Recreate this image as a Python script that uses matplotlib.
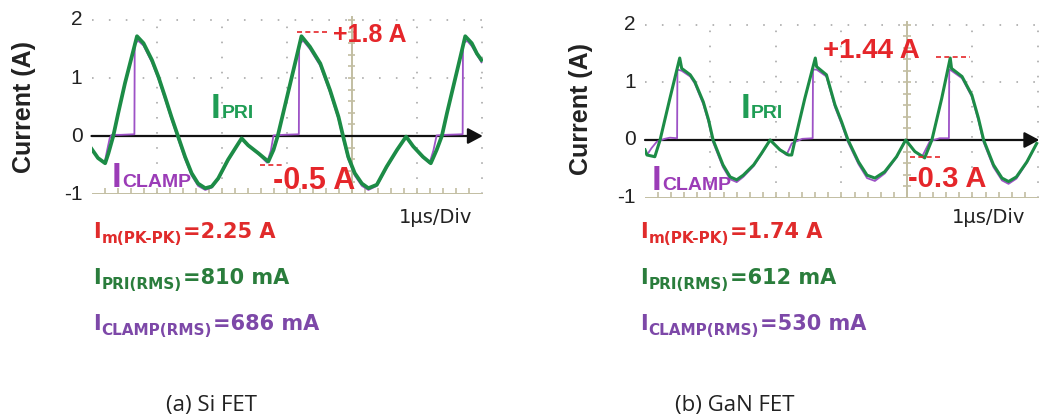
import numpy as np
import matplotlib
matplotlib.use("Agg")
import matplotlib.pyplot as plt

# ---- data (x in divisions, 1 us/div; y in A) ----
si_t_pri = [0.00, 0.10, 0.21, 0.26, 0.335, 0.41, 0.515, 0.62, 0.70, 0.80, 0.93, 1.03, 1.13, 1.23, 1.33,
            1.44, 1.54, 1.64, 1.75, 1.85, 1.95, 2.10, 2.23, 2.31, 2.41, 2.57, 2.72, 2.80, 2.865,
            2.95, 3.05, 3.15, 3.23, 3.36, 3.52, 3.67, 3.80, 3.87, 3.95, 4.05, 4.16, 4.26, 4.39, 4.54,
            4.70, 4.84, 4.95, 5.10, 5.22, 5.31, 5.39,
            5.47, 5.57, 5.67, 5.75, 5.85, 5.93, 6.00]
si_i_pri = [-0.22, -0.38, -0.47, -0.30, 0.00, 0.39, 0.91, 1.37, 1.72, 1.60, 1.31, 1.02, 0.68, 0.33, 0.00,
            -0.36, -0.64, -0.82, -0.90, -0.87, -0.73, -0.41, -0.18, -0.04, -0.16, -0.30, -0.44, -0.24, 0.00,
            0.40, 0.87, 1.34, 1.72, 1.54, 1.25, 0.79, 0.33, 0.00, -0.36, -0.64, -0.82, -0.90, -0.84, -0.53,
            -0.24, -0.01, -0.18, -0.36, -0.47, -0.24, 0.00,
            0.40, 0.87, 1.34, 1.72, 1.60, 1.42, 1.31]
si_t_clamp = [0.00, 0.10, 0.20, 0.24, 0.28, 0.31, 0.45, 0.66, 0.665, 0.72, 0.80, 0.93, 1.03, 1.13, 1.23,
              1.33, 1.44, 1.54, 1.64, 1.75, 1.85, 1.95, 2.10, 2.23, 2.31, 2.41, 2.57, 2.70, 2.76, 2.80,
              2.95, 3.19, 3.195, 3.26, 3.36, 3.52, 3.67, 3.80, 3.87, 3.95, 4.05, 4.16, 4.26, 4.39, 4.54,
              4.70, 4.84, 4.95, 5.10, 5.20, 5.26, 5.31, 5.45, 5.71, 5.715, 5.78, 5.85, 6.00]
si_i_clamp = [-0.22, -0.38, -0.47, -0.25, -0.04, 0.02, 0.02, 0.03, 1.60, 1.64, 1.56, 1.27, 0.98, 0.64, 0.29,
              -0.04, -0.40, -0.68, -0.86, -0.93, -0.89, -0.75, -0.43, -0.19, -0.05, -0.17, -0.31, -0.46, -0.25, 0.01,
              0.02, 0.03, 1.60, 1.64, 1.50, 1.21, 0.75, 0.29, -0.04, -0.40, -0.68, -0.86, -0.93, -0.86, -0.55,
              -0.25, -0.02, -0.19, -0.37, -0.47, -0.25, 0.01, 0.02, 0.03, 1.60, 1.64, 1.55, 1.27]

gan_t_pri = [0.00, 0.03, 0.15, 0.23, 0.38, 0.53, 0.56, 0.69, 0.76, 0.89, 0.97, 1.04, 1.19, 1.30, 1.40,
             1.50, 1.66, 1.78, 1.91, 2.06, 2.19, 2.24, 2.29, 2.44, 2.60, 2.62, 2.77, 2.90, 3.00, 3.10,
             3.26, 3.39, 3.51, 3.66, 3.84, 3.98, 4.12, 4.27, 4.38, 4.53, 4.66, 4.68, 4.84, 4.99, 5.09,
             5.17, 5.32, 5.45, 5.55, 5.67, 5.83, 5.98]
gan_i_pri = [-0.17, -0.26, -0.29, 0.00, 0.72, 1.42, 1.24, 1.13, 1.01, 0.66, 0.35, 0.00, -0.43, -0.64, -0.69,
             -0.61, -0.43, -0.23, 0.00, -0.17, -0.26, -0.26, 0.00, 0.72, 1.42, 1.27, 1.13, 0.61, 0.32, 0.00,
             -0.38, -0.61, -0.66, -0.55, -0.29, 0.00, -0.20, -0.31, 0.00, 0.72, 1.42, 1.24, 1.10, 0.78, 0.38,
             0.00, -0.43, -0.66, -0.72, -0.64, -0.38, -0.06]
gan_t_clamp = [0.00, 0.03, 0.10, 0.18, 0.30, 0.38, 0.49, 0.495, 0.56, 0.69, 0.76, 0.89, 0.97, 1.04, 1.19,
               1.30, 1.40, 1.50, 1.66, 1.78, 1.91, 2.06, 2.16, 2.24, 2.40, 2.56, 2.565, 2.62, 2.77, 2.90,
               3.00, 3.10, 3.26, 3.39, 3.51, 3.66, 3.84, 3.98, 4.12, 4.23, 4.35, 4.50, 4.64, 4.645, 4.68,
               4.84, 4.99, 5.09, 5.17, 5.32, 5.45, 5.55, 5.67, 5.83, 5.98]
gan_i_clamp = [-0.17, -0.26, -0.14, -0.03, 0.02, 0.04, 0.03, 1.22, 1.20, 1.10, 0.98, 0.62, 0.31, -0.04, -0.47,
               -0.68, -0.73, -0.64, -0.45, -0.24, 0.00, -0.17, -0.26, -0.06, 0.02, 0.03, 1.22, 1.22, 1.10, 0.57,
               0.28, -0.04, -0.42, -0.66, -0.71, -0.58, -0.30, 0.00, -0.20, -0.29, -0.02, 0.03, 0.03, 1.22, 1.20,
               1.07, 0.75, 0.34, -0.04, -0.47, -0.70, -0.76, -0.67, -0.39, -0.06]

ytick_vals = [2, 1, 0, -1]
ytick_labels = ["2", "1", "0", "-1"]

si_marks = [1.8, -0.5]       # peak / valley annotations
gan_marks = [1.44, -0.3]
si_summary = ["2.25 A", "810 mA", "686 mA"]
gan_summary = ["1.74 A", "612 mA", "530 mA"]
captions = ["(a) Si FET", "(b) GaN FET"]

GREEN = "#1c8c46"
PURPLE = "#9d52c6"
RED = "#e5262a"
TAN = "#c2bea2"
DOT = "#b0b0b0"
ARIAL = "Liberation Sans"

W, H = 1045, 415
fig = plt.figure(figsize=(W / 100, H / 100), dpi=100)

# invisible full-figure axes for the free text
bg = fig.add_axes([0, 0, 1, 1])
bg.set_xlim(0, 1)
bg.set_ylim(0, 1)
bg.set_axis_off()


def fx(px):
    return px / W


def fy(py):
    return 1 - py / H


def sub_text(ax, x, y, main, sub, color, smain, ssub, dy, family):
    t1 = ax.text(x, y, main, color=color, fontsize=smain, fontweight="bold",
                 family=family, ha="left", va="baseline", zorder=6)
    t2 = ax.annotate(sub, xy=(1, 0), xycoords=t1, xytext=(0.6, dy), textcoords="offset points",
                     color=color, fontsize=ssub, fontweight="bold", family=family,
                     ha="left", va="bottom", zorder=6)
    return t1, t2


def panel(rect, t_pri, i_pri, t_cl, i_cl, centre, marks, mark_cfg, pri_pos, cl_pos, lw_pri):
    ax = fig.add_axes(rect)
    ax.set_xlim(0, 6.02)
    ax.set_ylim(-1, 2.1)
    ax.set_axis_off()

    # scope graticule
    for g in [1, 2, 3, 5, 6]:
        ax.plot([g, g], [-1, 2.05], color=DOT, lw=1.3, ls=(0, (0.9, 7.45)), zorder=1)
    for h in [1, 2]:
        ax.plot([0, 6], [h, h], color=DOT, lw=1.3, ls=(0, (0.9, 8.45)), zorder=1)
    ax.plot([centre, centre], [-1, 2.05], color=TAN, lw=1.4, zorder=1)
    ax.hlines(np.arange(-0.8, 2.01, 0.2), centre - 0.06, centre + 0.06, color=TAN, lw=1.2, zorder=1)
    ax.plot([0, 6], [-1, -1], color=TAN, lw=1.4, zorder=1)
    ax.vlines(np.arange(0.2, 6.0, 0.2), -1, -0.9, color=TAN, lw=1.2, zorder=1)

    # axes with arrows
    arr = dict(arrowstyle="-|>,head_length=0.75,head_width=0.4", color="#111111", lw=1.6,
               shrinkA=0, shrinkB=0, mutation_scale=12)
    ax.annotate("", xy=(0, 2.12), xytext=(0, -1.0), arrowprops=arr, zorder=2)
    ax.annotate("", xy=(6.02, 0), xytext=(0, 0), arrowprops=arr, zorder=2)

    for v, lab in zip(ytick_vals, ytick_labels):
        ax.text(-0.14, v, lab, ha="right", va="center", fontsize=15, family=ARIAL, color="#222222")

    # traces
    ax.plot(t_cl, i_cl, color=PURPLE, lw=1.3, zorder=3)
    ax.plot(t_pri, i_pri, color=GREEN, lw=lw_pri, zorder=4, solid_joinstyle="round")

    # peak / valley callouts
    for val, (x0, x1, tx, ty, fs) in zip(marks, mark_cfg):
        ax.plot([x0, x1], [val, val], color=RED, lw=1.2, ls=(0, (3, 2)), zorder=5)
        sign = "+" if val > 0 else ""
        ax.text(tx, ty, f"{sign}{val:g} A", color=RED, fontsize=fs, fontweight="bold",
                family=ARIAL, ha="left", va="center", zorder=6)

    sub_text(ax, pri_pos[0], pri_pos[1], "I", "PRI", "#1f9d55", 25, 14, 2.3, ARIAL)
    sub_text(ax, cl_pos[0], cl_pos[1], "I", "CLAMP", "#9b3cb7", 25, 14, 2.3, ARIAL)
    return ax


panel([fx(91.5), fy(194), 391.3 / W, 179.8 / H], si_t_pri, si_i_pri, si_t_clamp, si_i_clamp,
      4, si_marks, [(3.16, 3.66, 3.715, 1.74, 18), (2.59, 2.95, 2.79, -0.78, 22)],
      (1.84, 0.31), (0.31, -0.88), 2.7)
panel([fx(645), fy(197.7), 394.3 / W, 178.9 / H], gan_t_pri, gan_i_pri, gan_t_clamp, gan_i_clamp,
      4, gan_marks, [(4.45, 4.96, 2.72, 1.54, 20), (4.05, 4.55, 4.02, -0.68, 21)],
      (1.46, 0.38), (0.10, -0.87), 2.2)

# axis titles and time base
for xl, yl in [(24, 107), (581, 109)]:
    bg.text(fx(xl), fy(yl), "Current (A)", rotation=90, ha="center", va="center",
            fontsize=18, fontweight="bold", family=ARIAL, color="#222222")
for xd in [399, 952]:
    bg.text(fx(xd), fy(217), "1\u03bcs/Div", ha="left", va="center", fontsize=14,
            family="DejaVu Sans", color="#222222")

# summary lines under each panel
subs = ["m(PK-PK)", "PRI(RMS)", "CLAMP(RMS)"]
cols = ["#e02b2b", "#2a7d3c", "#7d48a8"]
base_y = [238, 284, 330]
for x0, vals in [(93, si_summary), (640, gan_summary)]:
    for sub, val, col, by in zip(subs, vals, cols, base_y):
        t1, t2 = sub_text(bg, fx(x0), fy(by), "I", sub, col, 15, 11, -3.2, "DejaVu Sans")
        bg.annotate("=" + val, xy=(1, 0), xycoords=(t2, t1), xytext=(0.8, 0), textcoords="offset points",
                    color=col, fontsize=15, fontweight="bold", family="DejaVu Sans",
                    ha="left", va="bottom")

for cx, cap in zip([212, 735], captions):
    bg.text(fx(cx), fy(405), cap, ha="center", va="center", fontsize=16, family="Open Sans",
            color="#222222")

fig.savefig("out.png", dpi=100)
